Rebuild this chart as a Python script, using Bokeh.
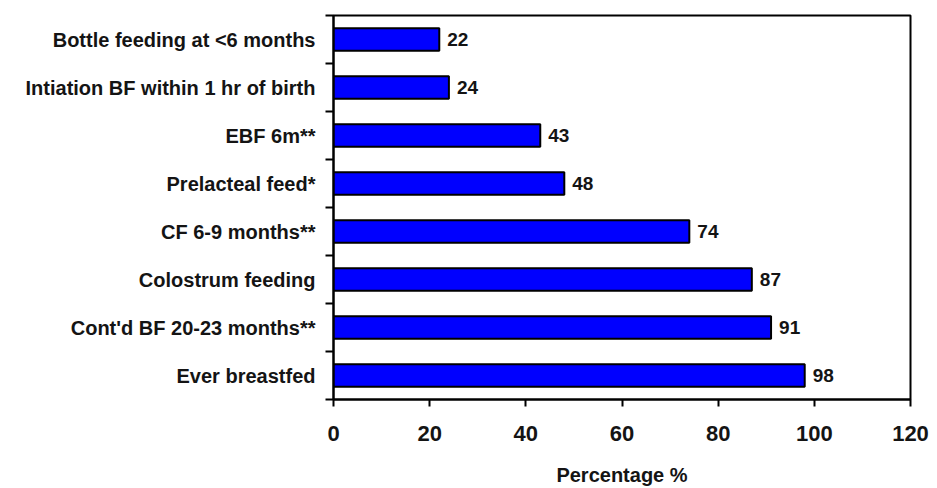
from bokeh.plotting import figure
from bokeh.models import ColumnDataSource, FixedTicker, Range1d
from bokeh.core.properties import value
from bokeh.embed import file_html
from bokeh.resources import INLINE

# Breastfeeding / infant feeding indicators (percent)
categories = [
    "Bottle feeding at <6 months",
    "Intiation BF within 1 hr of birth",
    "EBF 6m**",
    "Prelacteal feed*",
    "CF 6-9 months**",
    "Colostrum feeding",
    "Cont'd BF 20-23 months**",
    "Ever breastfed",
]
percent = [22, 24, 43, 48, 74, 87, 91, 98]
x_ticks = [0, 20, 40, 60, 80, 100, 120]

n = len(categories)
# first category on top: row i sits in the band [n-i-1, n-i]
rows = [n - i - 0.5 for i in range(n)]
bounds = list(range(n + 1))

src = ColumnDataSource(dict(cat=categories, y=rows, pct=percent,
                            lbl=[str(v) for v in percent]))

FONT = "Liberation Sans"
INK = "#141414"

p = figure(width=937, height=488, output_backend="svg", toolbar_location=None,
           x_range=Range1d(0, 120), y_range=Range1d(0, n),
           min_border_left=333, min_border_right=27,
           min_border_top=15, min_border_bottom=86)

p.hbar(y="y", right="pct", left=0, height=0.47, source=src,
       fill_color="#0000FF", line_color="#000000", line_width=2)

p.text(x="pct", y="y", text="lbl", source=src, x_offset=8,
       text_align="left", text_baseline="middle",
       text_font=value(FONT), text_font_style="bold",
       text_font_size="19px", text_color=INK)

p.xgrid.visible = False
p.ygrid.visible = False
p.outline_line_color = "#000000"
p.outline_line_width = 2
p.background_fill_color = "white"
p.border_fill_color = "white"

# x axis
xa = p.xaxis[0]
xa.ticker = FixedTicker(ticks=x_ticks, minor_ticks=[])
xa.axis_line_width = 2
xa.axis_line_color = "#000000"
xa.major_tick_line_width = 2
xa.major_tick_out = 7
xa.major_tick_in = 0
xa.minor_tick_line_color = None
xa.major_label_standoff = 19
xa.major_label_text_font = FONT
xa.major_label_text_font_style = "bold"
xa.major_label_text_font_size = "22px"
xa.major_label_text_color = INK
xa.axis_label = "Percentage %"
xa.axis_label_standoff = 20
xa.axis_label_text_font = FONT
xa.axis_label_text_font_style = "bold"
xa.axis_label_text_font_size = "20px"
xa.axis_label_text_color = INK

# y axis: labels at band centres, tick marks on band boundaries
ya = p.yaxis[0]
ya.ticker = FixedTicker(ticks=rows, minor_ticks=bounds)
ya.major_label_overrides = {r: c for r, c in zip(rows, categories)}
ya.axis_line_width = 2
ya.axis_line_color = "#000000"
ya.major_tick_line_color = None
ya.major_tick_out = 0
ya.major_tick_in = 0
ya.minor_tick_line_color = "#000000"
ya.minor_tick_line_width = 2
ya.minor_tick_out = 8
ya.minor_tick_in = 0
ya.major_label_standoff = 10
ya.major_label_text_font = FONT
ya.major_label_text_font_style = "bold"
ya.major_label_text_font_size = "20px"
ya.major_label_text_color = INK

open("out.html", "w").write(file_html(p, INLINE))
